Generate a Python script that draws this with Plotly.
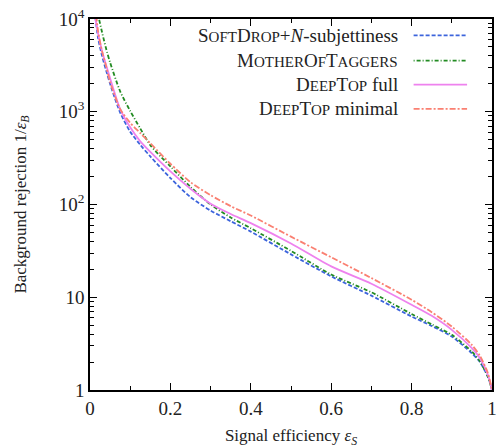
import plotly.graph_objects as go

# Signal efficiency grid
eff = [0.01, 0.02, 0.03, 0.04, 0.05, 0.075, 0.1, 0.125, 0.15, 0.2, 0.25, 0.3,
       0.35, 0.4, 0.5, 0.6, 0.7, 0.8, 0.85, 0.9, 0.95, 0.97, 0.99, 1.0]

# Background rejection 1/eps_B for each tagger
softdrop = [14000, 6300, 4000, 2800, 2000, 980, 610, 440, 330, 193, 120, 86,
            66, 51, 29, 16.8, 10.4, 6.2, 4.9, 3.77, 2.49, 2.0, 1.38, 1.0]
mother = [40000, 11500, 7200, 4800, 3400, 1660, 1020, 660, 437, 257, 155, 100,
          72.5, 55.5, 31.6, 17.6, 11.3, 6.6, 5.1, 3.93, 2.59, 2.04, 1.38, 1.0]
deeptop_full = [12500, 7000, 4500, 3200, 2300, 1070, 680, 480, 370, 228, 148, 102,
                79, 63, 38, 21.5, 14.0, 8.3, 6.3, 4.45, 2.82, 2.2, 1.45, 1.0]
deeptop_min = [20000, 7400, 4500, 3100, 2100, 1070, 760, 590, 457, 275, 174, 126,
               96, 76, 45, 27.0, 16.1, 9.4, 6.9, 4.83, 3.06, 2.34, 1.51, 1.0]

SC = "font-size:15px"
names = [
    f"S<span style='{SC}'>OFT</span>D<span style='{SC}'>ROP</span>+<i>N</i>-subjettiness",
    f"M<span style='{SC}'>OTHER</span>O<span style='{SC}'>F</span>T<span style='{SC}'>AGGERS</span>",
    f"D<span style='{SC}'>EEP</span>T<span style='{SC}'>OP</span> full",
    f"D<span style='{SC}'>EEP</span>T<span style='{SC}'>OP</span> minimal",
]
series = [softdrop, mother, deeptop_full, deeptop_min]
colors = ["#3c64dc", "#228b22", "#ee82ee", "#fa8072"]
dashes = ["4px,2px", "1px,2px,4px,2px", "solid", "6px,2px,2px,2px"]

FONT = "Liberation Serif, Times New Roman, DejaVu Serif, serif"
fig = go.Figure()
for ys, c, d in zip(series, colors, dashes):
    fig.add_trace(go.Scatter(x=eff, y=ys, mode="lines", line=dict(color=c, width=1.8, dash=d,
                             shape="spline", smoothing=0.7), showlegend=False))

# manual legend: right-aligned text, line sample on right
leg_y = [0.956, 0.888, 0.823, 0.758]
for nm, c, d, yy in zip(names, colors, dashes, leg_y):
    fig.add_annotation(x=0.772, y=yy, xref="paper", yref="paper", text=nm, showarrow=False,
                       xanchor="right", yanchor="middle", font=dict(family=FONT, size=19, color="#222"))
    fig.add_shape(type="line", xref="paper", yref="paper", x0=0.805, x1=0.938, y0=yy, y1=yy,
                  line=dict(color=c, width=1.8, dash=d))

axis_common = dict(showline=True, linecolor="black", linewidth=1.5, mirror="ticks",
                   ticks="inside", ticklen=7, tickwidth=1, tickcolor="black",
                   showgrid=False, zeroline=False, automargin=False,
                   tickfont=dict(family=FONT, size=19, color="#222"))

fig.update_xaxes(range=[0, 1], tickvals=[0, 0.2, 0.4, 0.6, 0.8, 1],
                 ticktext=["0", "0.2", "0.4", "0.6", "0.8", "1"],
                 minor=dict(ticks="inside", ticklen=4, dtick=0.1, tickcolor="black"),
                 title=dict(text="Signal efficiency <i>ε<sub>S</sub></i>",
                            font=dict(family=FONT, size=17, color="#222"), standoff=14),
                 **axis_common)
fig.update_yaxes(type="log", range=[0, 4], tickvals=[1, 10, 100, 1000, 10000],
                 ticktext=["1", "10", "10<sup>2</sup>", "10<sup>3</sup>", "10<sup>4</sup>"],
                 minor=dict(ticks="inside", ticklen=4, dtick="D1", tickcolor="black"),
                 title=dict(text="Background rejection 1/<i>ε<sub>B</sub></i>",
                            font=dict(family=FONT, size=17, color="#222"), standoff=28),
                 **axis_common)

fig.update_layout(width=497, height=448, margin=dict(l=90, r=5, t=19, b=58),
                  font=dict(family=FONT), paper_bgcolor="white", plot_bgcolor="white")
fig.write_html("out.html", config={"displayModeBar": False},
               post_script="document.body.style.margin='0';")
